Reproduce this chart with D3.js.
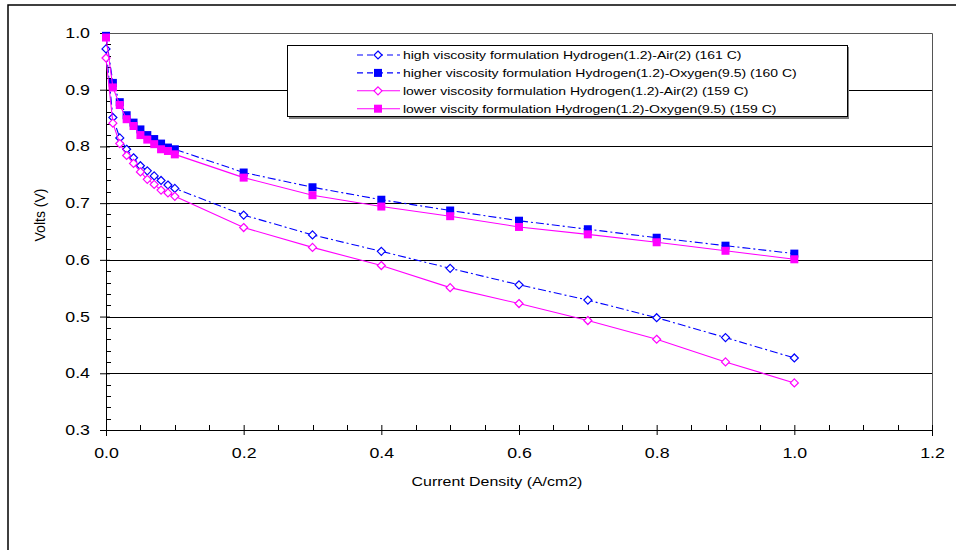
<!DOCTYPE html>
<html>
<head>
<meta charset="utf-8">
<script src="https://cdn.jsdelivr.net/npm/d3@7"></script>
<style>
  body { margin: 0; background: #fff; }
  text { font-family: "Liberation Sans", Arial, sans-serif; }
</style>
</head>
<body>
<script>
var currents = [0, 0.01, 0.02, 0.03, 0.04, 0.05, 0.06, 0.07, 0.08, 0.09, 0.1,
                0.2, 0.3, 0.4, 0.5, 0.6, 0.7, 0.8, 0.9, 1.0];

var highAir = [0.972, 0.851, 0.815, 0.795, 0.780, 0.766, 0.757, 0.748, 0.740, 0.732, 0.726,
               0.679, 0.644, 0.615, 0.585, 0.556, 0.529, 0.498, 0.463, 0.427];
var highOxygen = [0.995, 0.912, 0.878, 0.855, 0.842, 0.830, 0.820, 0.813, 0.805, 0.798, 0.795,
                  0.754, 0.728, 0.706, 0.687, 0.669, 0.654, 0.639, 0.625, 0.611];
var lowAir = [0.956, 0.841, 0.805, 0.784, 0.770, 0.755, 0.742, 0.733, 0.723, 0.718, 0.712,
              0.657, 0.622, 0.590, 0.551, 0.523, 0.493, 0.460, 0.420, 0.383];
var lowOxygen = [0.992, 0.904, 0.873, 0.848, 0.836, 0.820, 0.812, 0.804, 0.795, 0.792, 0.786,
                 0.745, 0.714, 0.694, 0.677, 0.658, 0.645, 0.631, 0.616, 0.601];

var seriesNames = ['high viscosity formulation Hydrogen(1.2)-Air(2) (161 C)',
                   'higher viscosity formulation Hydrogen(1.2)-Oxygen(9.5) (160 C)',
                   'lower viscosity formulation Hydrogen(1.2)-Air(2) (159 C)',
                   'lower viscity formulation Hydrogen(1.2)-Oxygen(9.5) (159 C)'];

var xTicks = [0, 0.2, 0.4, 0.6, 0.8, 1.0, 1.2];
var yTicks = [0.3, 0.4, 0.5, 0.6, 0.7, 0.8, 0.9, 1.0];

// colour, marker, dashed for each series
var styles = [
  { color: '#0000ff', filled: false, dash: '8,3,2,3' },
  { color: '#0000ff', filled: true, dash: '8,3,2,3' },
  { color: '#ff00ff', filled: false, dash: null },
  { color: '#ff00ff', filled: true, dash: null }
];
var allValues = [highAir, highOxygen, lowAir, lowOxygen];

var margin = {top: 33, right: 24, bottom: 120, left: 106};
var width = 956 - margin.left - margin.right;
var height = 550 - margin.top - margin.bottom;

var x = d3.scaleLinear().domain([0, 1.2]).range([0, width]);
var y = d3.scaleLinear().domain([0.3, 1.0]).range([height, 0]);

// the original picture is a bit wider than tall, so text gets stretched sideways
function widen(sel, k) {
  sel.each(function() {
    var w = this.getComputedTextLength();
    d3.select(this).attr('textLength', w * k).attr('lengthAdjust', 'spacingAndGlyphs');
  });
}

var root = d3.select('body').append('svg')
  .attr('width', 956)
  .attr('height', 550);

// outer frame
root.append('rect')
  .attr('x', 8).attr('y', 5)
  .attr('width', 1000).attr('height', 600)
  .attr('fill', 'none')
  .attr('stroke', '#000')
  .attr('stroke-width', 1.5);

var svg = root.append('g')
  .attr('transform', 'translate(' + margin.left + ',' + margin.top + ')');

// gridlines
svg.selectAll('.grid')
  .data(yTicks.slice(1, -1))
  .enter().append('line')
  .attr('x1', 0).attr('x2', width)
  .attr('y1', function(d) { return Math.round(y(d)) + 0.5; })
  .attr('y2', function(d) { return Math.round(y(d)) + 0.5; })
  .attr('stroke', '#000')
  .attr('stroke-width', 1);

// plot border, top and right
svg.append('path')
  .attr('d', 'M0,0.5H' + (width + 0.5) + 'V' + height)
  .attr('fill', 'none')
  .attr('stroke', '#555');

// y axis
var yAxis = svg.append('g')
  .call(d3.axisLeft(y).tickValues(yTicks).tickSize(6).tickPadding(10).tickFormat(d3.format('.1f')));
yAxis.select('.domain').attr('stroke', '#000');
yAxis.selectAll('.tick line').attr('x2', -6).attr('x1', 4);
yAxis.selectAll('text').style('font-size', '14px').attr('fill', '#000').attr('x', -16).call(widen, 1.27);

var yMinor = d3.range(0.32, 1.0, 0.02).filter(function(v) { return Math.abs(v * 10 - Math.round(v * 10)) > 0.01; });
svg.selectAll('.yminor')
  .data(yMinor)
  .enter().append('line')
  .attr('x1', 0).attr('x2', 5)
  .attr('y1', function(d) { return Math.round(y(d)) + 0.5; })
  .attr('y2', function(d) { return Math.round(y(d)) + 0.5; })
  .attr('stroke', '#000');

// x axis
var xAxis = svg.append('g')
  .attr('transform', 'translate(0,' + height + ')')
  .call(d3.axisBottom(x).tickValues(xTicks).tickSize(6).tickPadding(12).tickFormat(d3.format('.1f')));
xAxis.selectAll('.tick line').attr('y1', -5).attr('y2', 5);
xAxis.selectAll('text').style('font-size', '14px').attr('fill', '#000').call(widen, 1.27);

var xMinor = d3.range(0.05, 1.2, 0.05).filter(function(v) { return Math.abs(v * 5 - Math.round(v * 5)) > 0.01; });
svg.selectAll('.xminor')
  .data(xMinor)
  .enter().append('line')
  .attr('x1', function(d) { return Math.round(x(d)) + 0.5; })
  .attr('x2', function(d) { return Math.round(x(d)) + 0.5; })
  .attr('y1', height - 5).attr('y2', height)
  .attr('stroke', '#000');

// axis titles
svg.append('text')
  .attr('x', 391).attr('y', height + 56)
  .attr('text-anchor', 'middle')
  .style('font-size', '13.5px')
  .text('Current Density (A/cm2)')
  .call(widen, 1.18);

root.append('text')
  .attr('transform', 'translate(45,215) rotate(-90)')
  .attr('text-anchor', 'middle')
  .style('font-size', '14px')
  .text('Volts (V)');

// series
var line = d3.line()
  .x(function(d) { return x(d[0]); })
  .y(function(d) { return y(d[1]); });

function drawMarker(g, st, px, py) {
  if (st.filled) {
    g.append('rect')
      .attr('x', px - 4).attr('y', py - 4)
      .attr('width', 8).attr('height', 8)
      .attr('fill', st.color);
  } else {
    g.append('path')
      .attr('d', 'M' + px + ',' + (py - 4) + 'L' + (px + 4) + ',' + py + 'L' + px + ',' + (py + 4) + 'L' + (px - 4) + ',' + py + 'Z')
      .attr('fill', '#fff')
      .attr('stroke', st.color)
      .attr('stroke-width', 1.2);
  }
}

allValues.forEach(function(vals, i) {
  var st = styles[i];
  var pts = currents.map(function(c, j) { return [c, vals[j]]; });
  var g = svg.append('g');
  g.append('path')
    .datum(pts)
    .attr('d', line)
    .attr('fill', 'none')
    .attr('stroke', st.color)
    .attr('stroke-width', 1.1)
    .attr('stroke-dasharray', st.dash);
  pts.forEach(function(p) {
    drawMarker(g, st, x(p[0]), y(p[1]));
  });
});

// legend
var lg = root.append('g');
lg.append('rect')
  .attr('x', 289).attr('y', 47)
  .attr('width', 560).attr('height', 72)
  .attr('fill', '#808080');
lg.append('rect')
  .attr('x', 287.5).attr('y', 45.5)
  .attr('width', 560).attr('height', 71)
  .attr('fill', '#fff')
  .attr('stroke', '#000');

seriesNames.forEach(function(name, i) {
  var st = styles[i];
  var ly = 55 + i * 17.9;
  var g = lg.append('g');
  g.append('line')
    .attr('x1', 357).attr('x2', 400)
    .attr('y1', ly).attr('y2', ly)
    .attr('stroke', st.color)
    .attr('stroke-width', 1.1)
    .attr('stroke-dasharray', st.dash ? '6,4' : null);
  drawMarker(g, st, 378, ly);
  g.append('text')
    .attr('x', 403).attr('y', ly + 4)
    .style('font-size', '11px')
    .text(name)
    .call(widen, 1.27);
});
</script>
</body>
</html>
